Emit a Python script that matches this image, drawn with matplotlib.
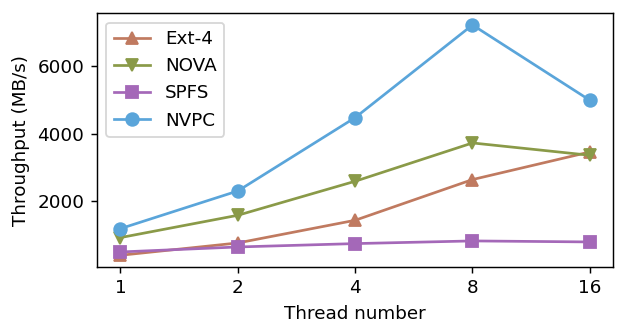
import numpy as np
import matplotlib
matplotlib.use('Agg')
import matplotlib.pyplot as plt

threads = ['1', '2', '4', '8', '16']
ext4 = [400, 765, 1437, 2643, 3461]
nova = [924, 1585, 2593, 3728, 3363]
spfs = [498, 646, 746, 825, 795]
nvpc = [1190, 2306, 4479, 7224, 4993]

x = np.arange(len(threads))

plt.rcParams['font.size'] = 10.2
fig, ax = plt.subplots(figsize=(622 / 130, 336 / 130), dpi=130)
ax.plot(x, ext4, '-^', color='#c07a60', markersize=7, label='Ext-4')
ax.plot(x, nova, '-v', color='#8a9a48', markersize=7, label='NOVA')
ax.plot(x, spfs, '-s', color='#a468b8', markersize=7, label='SPFS')
ax.plot(x, nvpc, '-o', color='#5aa5da', markersize=7, label='NVPC')

ax.set_xticks(x)
ax.set_xticklabels(threads)
ax.set_yticks([2000, 4000, 6000])
ax.set_xlabel('Thread number')
ax.set_ylabel('Throughput (MB/s)')
ax.legend(loc='upper left')

fig.subplots_adjust(left=0.156, right=0.986, top=0.960, bottom=0.206)
plt.savefig('out.png', dpi=130)
